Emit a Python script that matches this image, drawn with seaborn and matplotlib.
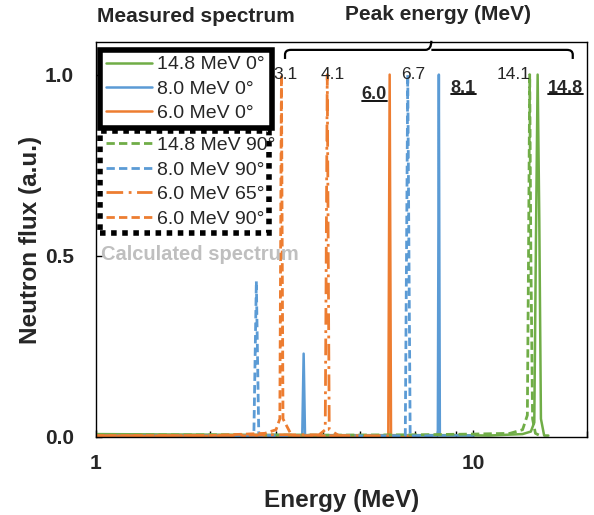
import numpy as np
import pandas as pd
import matplotlib.pyplot as plt
import seaborn as sns
from matplotlib.lines import Line2D
from matplotlib.path import Path
from matplotlib.patches import PathPatch

sns.set_theme(style="white")
plt.rcParams['font.family'] = ['Liberation Sans', 'DejaVu Sans']

# Data: energy (MeV) and normalised neutron flux

# measured, 14.8 MeV 0 deg
e_148_0 = [1.0, 1.5, 2.5, 4.0, 6.0, 9.0, 11.0, 13.5, 14.2, 14.5, 14.65, 14.8, 14.95, 15.1, 15.4, 15.8]
f_148_0 = [0.008, 0.007, 0.006, 0.005, 0.005, 0.005, 0.004, 0.008, 0.015, 0.04, 0.55, 1.0, 0.6, 0.05, 0.004, 0.004]

# measured, 8.0 MeV 0 deg
e_80_0 = [1.0, 2.0, 3.0, 3.52, 3.55, 3.58, 5.0, 7.0, 8.05, 8.1, 8.15, 9.0, 10.0]
f_80_0 = [0.004, 0.004, 0.005, 0.004, 0.23, 0.004, 0.004, 0.004, 0.004, 1.0, 0.004, 0.004, 0.004]

# measured, 6.0 MeV 0 deg
e_60_0 = [1.0, 2.0, 3.0, 4.5, 5.95, 6.0, 6.05, 7.0]
f_60_0 = [0.003, 0.003, 0.004, 0.003, 0.003, 1.0, 0.003, 0.003]

# calculated, 14.8 MeV 90 deg
e_148_90 = [1.0, 2.0, 4.0, 7.0, 10.0, 12.5, 13.5, 13.9, 14.0, 14.1, 14.2, 14.35, 14.6, 15.0]
f_148_90 = [0.006, 0.006, 0.005, 0.006, 0.008, 0.01, 0.02, 0.06, 0.5, 1.0, 0.5, 0.05, 0.01, 0.004]

# calculated, 8.0 MeV 90 deg
e_80_90 = [1.0, 2.0, 2.62, 2.66, 2.70, 4.0, 6.6, 6.7, 6.8, 8.0]
f_80_90 = [0.003, 0.004, 0.004, 0.43, 0.004, 0.003, 0.003, 1.0, 0.003, 0.003]

# calculated, 6.0 MeV 65 deg
e_60_65 = [1.0, 2.0, 3.0, 3.9, 4.05, 4.1, 4.15, 4.4, 6.0]
f_60_65 = [0.003, 0.004, 0.006, 0.006, 0.02, 1.0, 0.02, 0.004, 0.003]

# calculated, 6.0 MeV 90 deg
e_60_90 = [1.0, 2.0, 2.8, 3.0, 3.07, 3.1, 3.13, 3.3, 4.5]
f_60_90 = [0.004, 0.004, 0.01, 0.02, 0.05, 1.0, 0.05, 0.004, 0.003]

measured_labels = ["14.8 MeV 0°", "8.0 MeV 0°", "6.0 MeV 0°"]
calculated_labels = ["14.8 MeV 90°", "8.0 MeV 90°", "6.0 MeV 65°", "6.0 MeV 90°"]

peak_labels_calc = ["3.1", "4.1", "6.7", "14.1"]
peak_labels_meas = ["6.0", "8.1", "14.8"]

x_ticks = [1, 10]
x_tick_labels = ["1", "10"]
y_ticks = [0.0, 0.5, 1.0]
y_tick_labels = ["0.0", "0.5", "1.0"]

green = "#70AD47"
blue = "#5B9BD5"
orange = "#ED7D31"

fig = plt.figure(figsize=(5.94, 5.15), dpi=100)
ax = fig.add_axes([0.1616, 0.1515, 0.8266, 0.767])

series = [
    (e_148_0, f_148_0, green, "-"),
    (e_80_0, f_80_0, blue, "-"),
    (e_60_0, f_60_0, orange, "-"),
    (e_148_90, f_148_90, green, (0, (3, 1.5))),
    (e_80_90, f_80_90, blue, (0, (3, 1.5))),
    (e_60_65, f_60_65, orange, (0, (6, 2, 1, 2))),
    (e_60_90, f_60_90, orange, (0, (3, 1.5))),
]

handles = []
for e, f, c, ls in series:
    df = pd.DataFrame({"E": e, "flux": f})
    lw = 1.8 if ls == "-" else 2.0
    sns.lineplot(data=df, x="E", y="flux", color=c, linestyle=ls, linewidth=lw,
                 estimator=None, sort=False, legend=False, ax=ax)
    handles.append(ax.get_lines()[-1])

ax.set_xscale("log")
ax.set_xlim(1, 20)
ax.set_ylim(0, 1.09)
ax.set_xticks(x_ticks)
ax.set_xticklabels(x_tick_labels)
ax.set_yticks(y_ticks)
ax.set_yticklabels(y_tick_labels)
ax.xaxis.set_minor_locator(plt.LogLocator(base=10, subs=np.arange(2, 10)))
ax.xaxis.set_minor_formatter(plt.NullFormatter())
ax.tick_params(axis="both", which="both", direction="in", color="black")
ax.tick_params(axis="x", which="major", length=5, width=1, labelsize=15, pad=12, bottom=True)
ax.tick_params(axis="x", which="minor", length=4, width=1, bottom=True)
ax.tick_params(axis="y", which="major", length=4, width=1, labelsize=15, pad=16, left=True)
for lab in ax.get_xticklabels() + ax.get_yticklabels():
    lab.set_fontweight("bold")
for s in ax.spines.values():
    s.set_color("black")
    s.set_linewidth(1.0)

ax.set_xlabel("Energy (MeV)", fontsize=17.5, fontweight="bold", labelpad=12)
ax.set_ylabel("Neutron flux (a.u.)", fontsize=17.5, fontweight="bold", labelpad=2)

leg_kw = dict(fontsize=14, handlelength=2.4, handletextpad=0.25, labelspacing=0.35,
              borderpad=0.3, borderaxespad=0, fancybox=False, framealpha=1,
              edgecolor="black", loc="upper left", mode="expand")
leg1 = ax.legend(handles=handles[:3], labels=measured_labels,
                 bbox_to_anchor=(0.008, 0.98, 0.35, 0), **leg_kw)
leg1.get_frame().set_linewidth(4)
ax.add_artist(leg1)
leg2 = ax.legend(handles=handles[3:], labels=calculated_labels,
                 bbox_to_anchor=(0.008, 0.775, 0.345, 0), **leg_kw)
leg2.get_frame().set_linewidth(4)
leg2.get_frame().set_linestyle((0, (1, 1)))
leg1.set_zorder(6)
leg2.set_zorder(5)

fig.text(0.163, 0.967, "Measured spectrum", fontsize=15, fontweight="bold",
         ha="left", va="center")
fig.text(0.737, 0.971, "Peak energy (MeV)", fontsize=15, fontweight="bold",
         ha="center", va="center")
ax.text(0.01, 0.462, "Calculated spectrum", transform=ax.transAxes, fontsize=14.5,
        fontweight="bold", color="#BFBFBF", ha="left", va="center", zorder=7)

# curly brace over the peak labels
x0, x1, xc = 0.385, 0.971, 0.683
yb, yh, yt = 0.957, 0.980, 1.003
r = 0.012
verts = [(x0, yb), (x0, yh - 0.012), (x0, yh), (x0 + r, yh), (xc - r, yh), (xc, yh), (xc, yt),
         (xc, yh), (xc + r, yh), (x1 - r, yh), (x1, yh), (x1, yh - 0.012), (x1, yb)]
codes = [Path.MOVETO, Path.LINETO, Path.CURVE3, Path.CURVE3, Path.LINETO, Path.CURVE3, Path.CURVE3,
         Path.MOVETO, Path.CURVE3, Path.LINETO, Path.CURVE3, Path.CURVE3, Path.LINETO]
ax.add_patch(PathPatch(Path(verts, codes), transform=ax.transAxes, fill=False,
                       edgecolor="black", linewidth=1.6, clip_on=False, zorder=8))

# peak labels
calc_pos = [(3.17, 1.0), (4.25, 1.0), (6.93, 1.0), (12.8, 1.0)]
for txt, (px, py) in zip(peak_labels_calc, calc_pos):
    ax.text(px, py, txt, fontsize=12.5, ha="center", va="center", zorder=7)

meas_pos = [(5.46, 0.945), (9.4, 0.962), (17.5, 0.962)]
bold_texts = []
for txt, (px, py) in zip(peak_labels_meas, meas_pos):
    bold_texts.append(ax.text(px, py, txt, fontsize=13, fontweight="bold",
                              ha="center", va="center", zorder=7))

fig.canvas.draw()
W, H = fig.bbox.width, fig.bbox.height
for t in bold_texts:
    bb = t.get_window_extent()
    yy = (bb.y0 + 2.5) / H
    fig.add_artist(Line2D([bb.x0 / W, bb.x1 / W], [yy, yy], color="black", linewidth=1.3))

fig.savefig("out.png", dpi=100)
